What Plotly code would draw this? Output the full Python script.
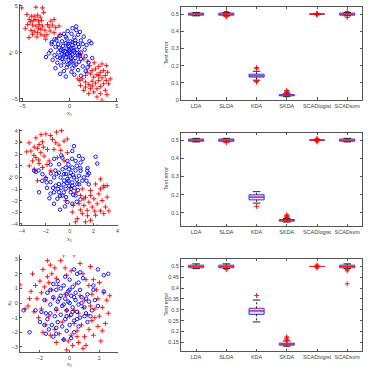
import plotly.graph_objects as go

# ---------------- scatter data (x1, x2) ----------------
s1_red = [(-5.07,4.79),(-3.57,4.86),(-2.87,4.79),(-4.51,4.08),(-4.02,3.90),(-3.74,3.90),(-3.39,4.01),(-3.11,3.79),
          (-4.27,3.55),(-3.85,3.44),(-3.57,3.55),(-3.29,3.37),(-2.97,3.44),(-4.44,3.01),(-3.92,2.94),(-3.57,2.84),
          (-3.22,3.01),(-2.87,2.84),(-4.09,2.38),(-3.74,2.30),(-3.39,2.13),(-3.04,1.95),(-2.69,1.77),(-3.92,1.95),
          (-3.46,1.67),(-2.52,1.42),(-2.34,3.01),(-1.99,3.37),(-1.64,3.55),(-2.17,2.73),(-1.82,2.94),(-1.47,2.66),
          (-1.12,2.84),(-1.64,2.13),(-1.01,1.95),(-1.29,1.60),(-3.04,2.48),(-2.62,2.38),(-2.06,2.30),(-4.16,3.30),
          (-4.69,2.59),(-2.75,4.3),(-3.3,2.6),(-2.4,1.9),(-4.3,1.6),
          (1.15,-0.18),(1.50,-0.71),(1.92,-0.96),(2.13,-1.42),(2.38,-1.95),(2.73,-1.77),(3.08,-1.52),(3.43,-1.24),
          (3.88,-1.42),(3.60,-1.95),(3.25,-2.13),(2.90,-2.38),(2.55,-2.66),(2.20,-2.30),(1.85,-2.13),(1.33,-2.84),
          (1.68,-3.19),(2.03,-3.44),(2.38,-3.09),(2.73,-3.30),(3.08,-3.01),(3.43,-2.73),(3.78,-2.48),(4.02,-2.13),
          (3.60,-3.37),(3.25,-3.65),(2.90,-3.90),(2.55,-4.26),(2.20,-3.90),(1.68,-3.72),(2.03,-4.43),(3.25,-4.43),
          (3.78,-4.08),(3.95,-4.54),(3.43,-5.14),(1.15,-3.55),(1.08,-3.01),(1.50,-4.08),(2.90,-4.79),(4.13,-3.37),
          (4.30,-2.84),(3.88,-3.01),(1.68,-2.48),(0.87,-2.84),(2.6,-1.1),(3.1,-2.5),(2.4,-3.6)]
s1_blue = [(0.3,2.6),(0.7,2.4),(-0.2,2.3),(1.1,2.2),(-0.6,2.0),(0.2,2.0),(0.9,1.9),(-1.0,1.8),(1.5,1.7),(0.5,1.6),
           (-0.3,1.5),(-1.6,1.4),(2.1,1.2),(1.2,1.3),(-0.8,1.2),(0.1,1.2),(-0.4,1.0),(0.6,1.0),(-1.2,0.9),(1.8,0.8),
           (0.3,0.8),(-0.1,0.7),(-0.7,0.7),(1.0,0.6),(-1.5,0.6),(0.4,0.5),(-0.3,0.4),(0.8,0.3),(-0.9,0.3),(1.6,0.3),
           (-2.0,0.2),(0.0,0.2),(-0.5,0.1),(0.5,0.0),(1.2,0.0),(-1.2,0.0),(-0.2,-0.1),(0.3,-0.2),(-0.8,-0.2),(0.9,-0.3),
           (-1.6,-0.3),(1.7,-0.4),(0.1,-0.4),(-0.4,-0.5),(0.6,-0.6),(-1.0,-0.6),(1.2,-0.7),(-0.1,-0.8),(-1.8,-0.8),(0.4,-0.9),
           (-0.6,-1.0),(1.0,-1.0),(2.0,-1.1),(-1.3,-1.1),(0.0,-1.2),(0.7,-1.3),(-0.9,-1.4),(1.4,-1.5),(-0.3,-1.6),(0.3,-1.7),
           (-1.5,-1.7),(0.9,-1.9),(-0.6,-2.0),(1.7,-2.0),(0.2,-2.1),(-1.0,-2.3),(0.5,-2.4),(-0.4,-2.6),(1.2,-2.5),(-2.5,-0.5),
           (-1.9,0.9),(0.7,2.8),(0.0,0.0),(0.2,0.4),(-0.6,-0.3),(0.8,-0.1),(-0.3,-0.2),(0.4,0.2),(-1.1,0.5),(1.4,0.9),
           (-0.4,1.7),(-2.2,-0.1),(0.2,-1.0),(-0.2,0.9),(0.6,1.3),(1.1,-0.4),(-0.8,-0.7),(-1.3,-0.5),(0.1,-0.6),(0.5,-1.4),
           (-0.1,0.3),(2.4,-0.6),(2.3,1.0),(-1.9,1.1),(1.9,-1.6),(0.9,0.9),(-1.4,1.3),(-0.2,-1.3),(0.3,1.1),(-0.7,0.2)]

s2_red = [(-4.17,3.06),(-3.4,2.98),(-2.83,3.4),(-2.4,3.68),(-2.0,3.74),(-0.69,4.03),(-2.56,2.83),(-2.28,3.06),
          (-2.97,2.61),(-2.69,2.5),(-3.25,2.27),(-2.42,2.13),(-1.86,2.41),(-1.44,3.26),(-1.17,2.98),(-0.89,2.78),
          (-0.47,3.12),(-1.31,2.41),(-2.14,1.84),(-2.83,1.7),(-3.11,1.42),(-2.56,1.19),(-1.72,1.42),(-3.39,0.99),
          (-2.97,0.71),(-2.28,0.85),(-2.69,-0.28),(-0.75,2.33),(-0.19,2.13),(-1.03,1.7),(-0.47,1.42),(-1.58,0.57),
          (-2.0,0.0),(-1.6,3.6),(-2.2,2.6),(-3.6,2.2),(-1.1,3.9),(-2.6,1.5),(-1.9,1.1),(-3.0,1.9),(-0.2,3.3),
          (0.08,-0.85),(0.5,-1.28),(1.06,-0.99),(1.33,-1.7),(1.75,-1.13),(2.17,-0.57),(2.58,-0.14),(2.86,-0.85),
          (2.44,-1.42),(2.03,-1.84),(1.61,-2.13),(1.19,-2.41),(0.78,-2.27),(0.22,-2.98),(0.64,-3.55),(1.06,-3.12),
          (1.47,-2.84),(1.89,-2.55),(2.31,-2.27),(2.72,-1.99),(3.14,-1.7),(3.0,-2.55),(2.58,-2.89),(2.17,-3.26),
          (1.75,-3.69),(1.33,-3.83),(2.31,-4.26),(0.5,-3.83),(2.86,-3.12),(3.28,-2.89),(0.92,-1.56),(-0.33,-1.99),
          (1.75,-1.56),(1.19,-1.84),(2.86,-0.71),(2.58,-0.99),(3.14,-0.71),(0.3,-2.4),(1.5,-3.3),(2.1,-2.9),(0.9,-2.8)]
s2_blue = [(-2.97,0.57),(-2.83,0.48),(-2.28,0.28),(-1.92,-0.43),(-1.58,0.34),(-1.31,0.0),(-1.17,-0.71),(-0.89,-1.28),
           (-1.31,-1.28),(-1.03,-1.84),(-0.61,-1.56),(-0.8,-2.78),(-1.31,-2.27),(-2.56,-1.28),(-0.19,-2.13),(0.22,-2.27),
           (0.5,-1.56),(0.08,-1.28),(-0.33,-0.99),(0.22,-0.71),(0.64,-0.57),(1.06,-0.28),(1.47,0.57),(1.61,0.34),
           (2.17,1.78),(2.31,1.19),(0.92,1.28),(0.36,2.69),(0.22,2.27),(0.78,1.84),(0.5,1.42),(-0.19,1.42),
           (-0.61,1.7),(-0.89,1.13),(-0.33,0.85),(-0.06,0.71),(0.22,0.85),(-0.47,0.28),(-0.75,0.0),(-0.19,-0.14),
           (0.36,0.0),(0.78,0.14),(0.92,0.57),(1.19,0.0),(-0.89,-0.57),(-0.06,-0.71),(0.22,-0.43),(-0.47,-0.28),
           (-1.6,1.1),(-1.2,0.6),(-0.3,0.3),(0.1,0.4),(0.5,0.6),(-0.6,0.7),(1.4,-0.3),(1.6,-0.6),(1.5,0.2),
           (-1.6,-0.4),(-1.9,-0.9),(-1.4,-0.9),(-0.7,-0.9),(-0.2,-0.5),(0.4,-0.9),(0.7,-1.1),(-0.5,-1.3),(-1.0,-1.0),
           (-0.3,-1.7),(-0.8,-1.6),(0.6,-2.1),(-0.4,-2.5),(-1.7,-1.8),(-2.0,-0.1),(-2.6,0.6),(0.0,0.1),(0.3,0.2),
           (-0.1,-0.3),(0.6,-0.2),(-0.5,-0.6),(0.1,-1.0),(-1.1,0.3),(0.9,0.8),(0.6,1.0),(1.1,1.6),(-0.1,1.1),
           (-1.3,1.6),(-0.9,0.4),(0.2,1.6),(1.5,0.8),(-2.3,-0.3),(0.8,-0.6),(0.9,-1.9),(-1.6,-1.4),(0.3,-1.5),(-0.7,1.9)]

s3_red = [(-0.4,3.3),(0.3,3.3),(-1.3,2.6),(-0.3,2.4),(-1.8,2.3),(1.4,2.5),(-1.2,2.0),(-1.5,1.8),(-0.9,1.7),(-2.0,1.5),
          (-1.4,1.4),(0.9,2.0),(1.6,1.6),(-2.3,1.2),(-1.7,1.1),(-3.35,1.25),(-2.6,0.8),(-1.9,0.7),(-1.2,0.9),(-2.2,0.3),
          (-1.6,0.2),(-2.8,-0.2),(-2.4,-0.6),(-1.9,-0.4),(-2.1,-1.0),(-1.4,-0.9),(-1.6,-1.5),(-1.0,-1.8),(-1.3,-2.2),(-0.7,-2.1),
          (-0.9,-2.7),(-0.4,-2.5),(-0.2,-3.2),(0.2,-2.9),(0.1,-2.2),(0.6,-2.7),(0.5,-1.9),(1.0,-2.3),(0.8,-1.5),(1.3,-1.8),
          (1.5,-1.2),(1.2,-0.8),(1.9,-1.6),(2.0,-0.9),(1.7,-0.4),(2.2,-0.3),(2.5,0.2),(1.9,0.3),(2.3,0.7),(1.8,0.9),
          (2.0,1.4),(1.5,0.6),(2.6,-0.7),(2.2,-1.9),(1.6,-2.2),(2.1,-2.6),(1.1,-2.9),(0.3,-1.4),(0.0,-0.9),(-0.5,-1.3),
          (0.6,-0.7),(1.0,0.2),(-0.8,1.2),(0.4,1.3),(-0.2,1.9),(0.7,2.7),(-0.6,2.9),(-2.5,2.0),(-1.0,2.4),(0.1,2.2),
          (2.7,0.5),(2.4,-1.4),(0.9,-3.1),(-1.8,-2.0),(-2.7,0.3),(-0.3,0.6),(0.9,-0.3),(1.3,1.2),(-1.1,0.3),(0.3,-0.5),
          (-3.0,-0.4),(0.7,0.5),(-0.2,-0.5),(1.4,-0.2),(-0.9,-0.5),(0.5,-2.3),(1.7,-1.0),(-1.5,2.9),(1.1,1.6),(-0.1,-2.6)]
s3_blue = [(-3.1,-0.5),(-2.7,-2.0),(2.3,1.9),(2.6,2.0),(1.9,2.3),(-1.6,-0.7),(-0.2,0.6),(0.3,2.3),(0.5,2.0),(-0.3,1.8),
           (0.0,1.6),(-0.8,1.5),(0.6,1.4),(-1.1,1.3),(1.6,1.2),(-0.4,1.2),(0.2,1.1),(1.6,0.9),(-0.9,0.9),(0.7,0.9),
           (-0.1,0.8),(-1.5,0.7),(0.4,0.7),(1.2,0.6),(-0.6,0.5),(0.1,0.5),(-1.1,0.4),(0.8,0.4),(-0.3,0.3),(0.4,0.2),
           (-0.8,0.1),(1.3,0.1),(0.0,0.0),(-1.3,-0.1),(0.6,-0.1),(-0.5,-0.2),(0.2,-0.3),(1.0,-0.3),(-0.9,-0.4),(-0.2,-0.5),
           (0.5,-0.6),(-1.3,-0.7),(1.1,-0.7),(-0.6,-0.8),(0.1,-0.8),(-1.0,-0.9),(0.7,-1.0),(-0.3,-1.1),(-1.5,-1.1),(0.3,-1.2),
           (-0.8,-1.3),(1.2,-1.3),(-1.2,-1.5),(0.0,-1.5),(-0.5,-1.6),(0.6,-1.6),(-1.4,-1.8),(-0.2,-1.9),(0.3,-2.0),(-0.9,-2.1),
           (0.1,-2.4),(-0.4,-2.5),(-1.1,-2.3),(1.0,-0.9),(-0.1,0.1),(0.3,0.4),(-0.4,-0.1),(0.8,0.0),(-0.7,0.3),(0.2,-0.6),
           (-2.0,-1.3),(-1.7,0.2),(-1.9,-0.6),(1.7,0.2),(1.9,-0.2),(2.3,0.8),(1.5,-0.5),(-2.3,-0.5),(-1.6,-2.1),(-0.2,-0.9),
           (-0.6,1.0),(0.9,1.7),(-1.3,0.9),(0.5,-1.1),(1.4,-0.9),(-0.9,-1.7),(0.0,0.9),(1.1,0.3),(-1.7,-1.5),(0.7,2.1)]

# ---------------- boxplot data ----------------
methods = ["LDA", "SLDA", "KDA", "SKDA", "SCADlogist", "SCADsvm"]
b1_q1 = [0.494, 0.494, 0.133, 0.024, 0.500, 0.494]
b1_med = [0.500, 0.500, 0.140, 0.027, 0.500, 0.500]
b1_q3 = [0.506, 0.506, 0.150, 0.031, 0.500, 0.506]
b1_lo = [0.490, 0.490, 0.115, 0.019, 0.500, 0.490]
b1_hi = [0.510, 0.510, 0.167, 0.036, 0.500, 0.510]
b1_out = [[], [0.485, 0.488, 0.515], [0.189, 0.182, 0.104, 0.108], [0.040, 0.043, 0.046, 0.050, 0.055],
          [0.495, 0.497, 0.499, 0.501, 0.503, 0.505], [0.480, 0.515]]

b2_q1 = [0.494, 0.494, 0.172, 0.055, 0.500, 0.494]
b2_med = [0.500, 0.500, 0.187, 0.059, 0.500, 0.500]
b2_q3 = [0.506, 0.506, 0.200, 0.064, 0.500, 0.506]
b2_lo = [0.490, 0.490, 0.154, 0.050, 0.500, 0.490]
b2_hi = [0.510, 0.510, 0.217, 0.070, 0.500, 0.510]
b2_out = [[], [0.485], [0.136], [0.075, 0.080, 0.085, 0.090],
          [0.490, 0.495, 0.498, 0.502, 0.505, 0.510], []]

b3_q1 = [0.494, 0.494, 0.279, 0.137, 0.500, 0.494]
b3_med = [0.500, 0.500, 0.295, 0.141, 0.500, 0.500]
b3_q3 = [0.506, 0.506, 0.307, 0.146, 0.500, 0.506]
b3_lo = [0.490, 0.490, 0.244, 0.132, 0.500, 0.490]
b3_hi = [0.512, 0.512, 0.345, 0.156, 0.500, 0.512]
b3_out = [[], [0.485], [0.366], [0.160, 0.165, 0.170, 0.175],
          [0.493, 0.497, 0.500, 0.503, 0.507], [0.485, 0.480, 0.420]]

# ---------------- layout helpers ----------------
W, H = 370, 371
def xd(a, b):
    return [a / W, b / W]
def yd(top, bot):
    return [1 - bot / H, 1 - top / H]

FONT = dict(family="Liberation Sans, Arial, sans-serif", size=5.5, color="#444")
AX = dict(showline=True, linecolor="#555", linewidth=1, ticks="inside", ticklen=2.5, tickcolor="#555",
          showgrid=False, zeroline=False, tickfont=FONT, tickangle=0)

RED_MK = dict(symbol="cross-thin", size=3.5, color="#ff0000", line=dict(color="#ff0000", width=0.9))
BLUE_MK = dict(symbol="circle-open", size=3.5, color="#0000ff", line=dict(color="#0000ff", width=0.9))

fig = go.Figure()

scatter_sets = [(s1_red, s1_blue), (s2_red, s2_blue), (s3_red, s3_blue)]
for k, (red, blue) in enumerate(scatter_sets):
    ax = 2 * k + 1
    xa, ya = ("x" if ax == 1 else f"x{ax}"), ("y" if ax == 1 else f"y{ax}")
    fig.add_trace(go.Scatter(x=[p[0] for p in red], y=[p[1] for p in red], mode="markers", xaxis=xa, yaxis=ya,
                             marker=RED_MK, showlegend=False))
    fig.add_trace(go.Scatter(x=[p[0] for p in blue], y=[p[1] for p in blue], mode="markers", xaxis=xa, yaxis=ya,
                             marker=BLUE_MK, showlegend=False))

box_sets = [(b1_q1, b1_med, b1_q3, b1_lo, b1_hi, b1_out),
            (b2_q1, b2_med, b2_q3, b2_lo, b2_hi, b2_out),
            (b3_q1, b3_med, b3_q3, b3_lo, b3_hi, b3_out)]
pos = list(range(1, len(methods) + 1))
BW = 0.5   # box width (category units)
CW = 0.25  # cap width
for k, (q1, med, q3, lo, hi, out) in enumerate(box_sets):
    ax = 2 * k + 2
    xa, ya = f"x{ax}", f"y{ax}"
    wx, wy, cx, cy = [], [], [], []
    for i in range(len(pos)):
        wx += [pos[i], pos[i], None, pos[i], pos[i], None]
        wy += [q3[i], hi[i], None, q1[i], lo[i], None]
        cx += [pos[i] - CW / 2, pos[i] + CW / 2, None, pos[i] - CW / 2, pos[i] + CW / 2, None]
        cy += [hi[i], hi[i], None, lo[i], lo[i], None]
    fig.add_trace(go.Scatter(x=wx, y=wy, mode="lines", xaxis=xa, yaxis=ya, showlegend=False,
                             line=dict(color="#222", width=1, dash="2px,2px")))
    fig.add_trace(go.Scatter(x=cx, y=cy, mode="lines", xaxis=xa, yaxis=ya, showlegend=False,
                             line=dict(color="#222", width=1)))
    fig.add_trace(go.Box(x=pos, q1=q1, median=med, q3=q3, lowerfence=q1, upperfence=q3,
                         width=BW, whiskerwidth=0, xaxis=xa, yaxis=ya, showlegend=False, boxpoints=False,
                         line=dict(color="#3333ff", width=1), fillcolor="rgba(170,160,255,0.35)"))
    mx, my = [], []
    for i in range(len(pos)):
        mx += [pos[i] - BW / 2, pos[i] + BW / 2, None]
        my += [med[i], med[i], None]
    fig.add_trace(go.Scatter(x=mx, y=my, mode="lines", xaxis=xa, yaxis=ya, showlegend=False,
                             line=dict(color="#ff2020", width=1)))
    ox, oy = [], []
    for i in range(len(pos)):
        ox += [pos[i]] * len(out[i])
        oy += out[i]
    fig.add_trace(go.Scatter(x=ox, y=oy, mode="markers", xaxis=xa, yaxis=ya, showlegend=False,
                             marker=RED_MK))

SX = xd(19, 118)
BX = xd(181, 363.3)
layout = dict(width=W, height=H, margin=dict(l=0, r=0, t=0, b=0), paper_bgcolor="white",
              plot_bgcolor="white", font=FONT)

sc = [
    dict(yd=yd(3, 100.7), xr=[-5.26, 5.16], yr=[-5.18, 5.21], xt=[-5, 0, 5], yt=[-5, 0, 5]),
    dict(yd=yd(129, 226.7), xr=[-4.17, 4.08], yr=[-4.12, 4.2], xt=[-4, -2, 0, 2, 4], yt=[-4, -3, -2, -1, 0, 1, 2, 3, 4]),
    dict(yd=yd(257, 355), xr=[-3.35, 3.28], yr=[-3.36, 3.27], xt=[-2, 0, 2], yt=[-3, -2, -1, 0, 1, 2, 3]),
]
bx = [
    dict(yd=yd(6, 100), yr=[0, 0.542], yt=[0, 0.1, 0.2, 0.3, 0.4, 0.5]),
    dict(yd=yd(133.3, 227.7), yr=[0.027, 0.540], yt=[0.1, 0.2, 0.3, 0.4, 0.5]),
    dict(yd=yd(260.7, 354), yr=[0.109, 0.535], yt=[0.15, 0.2, 0.25, 0.3, 0.35, 0.4, 0.45, 0.5]),
]
for k in range(3):
    a = 2 * k + 1
    xn = "xaxis" if a == 1 else f"xaxis{a}"
    yn = "yaxis" if a == 1 else f"yaxis{a}"
    layout[xn] = dict(AX, domain=SX, range=sc[k]["xr"], tickvals=sc[k]["xt"], anchor=("y" if a == 1 else f"y{a}"))
    layout[yn] = dict(AX, domain=sc[k]["yd"], range=sc[k]["yr"], tickvals=sc[k]["yt"], anchor=("x" if a == 1 else f"x{a}"))
    b = 2 * k + 2
    layout[f"xaxis{b}"] = dict(AX, domain=BX, range=[0.5, 6.5], tickvals=pos, ticktext=methods,
                               mirror="ticks", anchor=f"y{b}")
    layout[f"yaxis{b}"] = dict(AX, domain=bx[k]["yd"], range=bx[k]["yr"], tickvals=bx[k]["yt"],
                               mirror="ticks", anchor=f"x{b}")

ann = []
for ylab_y, xlab_y in [(52, 114), (178, 241), (305, 367)]:
    ann.append(dict(text="x<sub>1</sub>", x=69 / W, y=1 - xlab_y / H, xref="paper", yref="paper",
                    showarrow=False, font=FONT, xanchor="center", yanchor="middle"))
    ann.append(dict(text="x<sub>2</sub>", x=9 / W, y=1 - ylab_y / H, xref="paper", yref="paper",
                    showarrow=False, font=FONT, textangle=-90, xanchor="center", yanchor="middle"))
for yy in [53, 180, 307]:
    ann.append(dict(text="Test error", x=166 / W, y=1 - yy / H, xref="paper", yref="paper",
                    showarrow=False, font=FONT, textangle=-90, xanchor="center", yanchor="middle"))
layout["annotations"] = ann

fig.update_layout(**layout)
fig.write_html("out.html")
